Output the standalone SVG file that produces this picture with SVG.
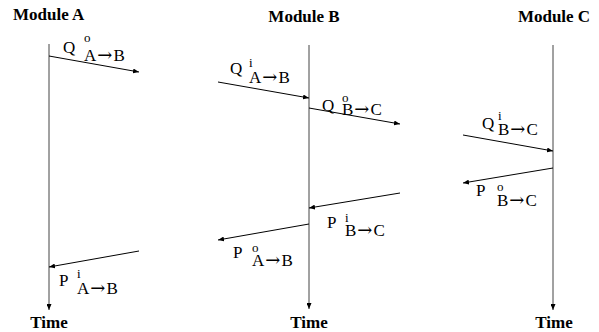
<svg xmlns="http://www.w3.org/2000/svg" width="599" height="332" viewBox="0 0 599 332">
<defs>
<marker id="ah" markerWidth="6" markerHeight="5" refX="6" refY="2.5" orient="auto" markerUnits="userSpaceOnUse">
<path d="M0,0 L6,2.5 L0,5 z" fill="#000"/>
</marker>
<style>
.title{font-weight:bold;font-size:17px}
.lbl{font-size:17px}
.sup{font-size:13px}
.arr{font-size:18px}
.life{stroke:#444;stroke-width:1;fill:none}
.msg{stroke:#000;stroke-width:1;fill:none}
</style>
</defs>
<rect width="599" height="332" fill="#fff"/>
<g font-family="Liberation Serif, serif" fill="#000">
<g id="moduleA">
<text class="title" x="13" y="20" font-family="Liberation Serif, serif">Module A</text>
<line class="life" x1="49" y1="44" x2="49" y2="310" marker-end="url(#ah)"/>
<text class="title" x="49" y="328" text-anchor="middle" font-family="Liberation Serif, serif">Time</text>
</g>
<g id="moduleB">
<text class="title" x="304" y="22" text-anchor="middle" font-family="Liberation Serif, serif">Module B</text>
<line class="life" x1="309" y1="45" x2="309" y2="309" marker-end="url(#ah)"/>
<text class="title" x="309" y="328" text-anchor="middle" font-family="Liberation Serif, serif">Time</text>
</g>
<g id="moduleC">
<text class="title" x="554" y="22" text-anchor="middle" font-family="Liberation Serif, serif">Module C</text>
<line class="life" x1="553" y1="45" x2="553" y2="310" marker-end="url(#ah)"/>
<text class="title" x="554" y="328" text-anchor="middle" font-family="Liberation Serif, serif">Time</text>
</g>
<g id="connectors">
<line class="msg" x1="49" y1="56" x2="139" y2="72" marker-end="url(#ah)"/>
<line class="msg" x1="218" y1="82" x2="309" y2="98" marker-end="url(#ah)"/>
<line class="msg" x1="309" y1="108" x2="400" y2="124" marker-end="url(#ah)"/>
<line class="msg" x1="463" y1="135" x2="553" y2="151" marker-end="url(#ah)"/>
<line class="msg" x1="553" y1="168" x2="463" y2="183" marker-end="url(#ah)"/>
<line class="msg" x1="400" y1="193" x2="309" y2="208" marker-end="url(#ah)"/>
<line class="msg" x1="309" y1="224" x2="218" y2="240" marker-end="url(#ah)"/>
<line class="msg" x1="139" y1="251" x2="49" y2="267" marker-end="url(#ah)"/>
</g>
<g id="labels" font-family="Liberation Serif, serif">
<text class="lbl" x="63" y="53" font-family="Liberation Serif, serif">Q</text><text class="sup" x="84" y="42" font-family="Liberation Serif, serif">o</text><text class="lbl" x="84" y="61" font-family="Liberation Serif, serif">A<tspan class="arr" dx="1" font-family="DejaVu Serif, serif">→</tspan><tspan dx="1">B</tspan></text>
<text class="lbl" x="230" y="74" font-family="Liberation Serif, serif">Q</text><text class="sup" x="249" y="67" font-family="Liberation Serif, serif">i</text><text class="lbl" x="249" y="83" font-family="Liberation Serif, serif">A<tspan class="arr" dx="1" font-family="DejaVu Serif, serif">→</tspan><tspan dx="1">B</tspan></text>
<text class="lbl" x="322" y="111" font-family="Liberation Serif, serif">Q</text><text class="sup" x="342" y="102" font-family="Liberation Serif, serif">o</text><text class="lbl" x="342" y="115" font-family="Liberation Serif, serif">B<tspan class="arr" dx="1" font-family="DejaVu Serif, serif">→</tspan><tspan dx="1">C</tspan></text>
<text class="lbl" x="482" y="129" font-family="Liberation Serif, serif">Q</text><text class="sup" x="498" y="120" font-family="Liberation Serif, serif">i</text><text class="lbl" x="498" y="135" font-family="Liberation Serif, serif">B<tspan class="arr" dx="1" font-family="DejaVu Serif, serif">→</tspan><tspan dx="1">C</tspan></text>
<text class="lbl" x="476" y="196" font-family="Liberation Serif, serif">P</text><text class="sup" x="497" y="191" font-family="Liberation Serif, serif">o</text><text class="lbl" x="497" y="206" font-family="Liberation Serif, serif">B<tspan class="arr" dx="1" font-family="DejaVu Serif, serif">→</tspan><tspan dx="1">C</tspan></text>
<text class="lbl" x="327" y="228" font-family="Liberation Serif, serif">P</text><text class="sup" x="345" y="222" font-family="Liberation Serif, serif">i</text><text class="lbl" x="345" y="236" font-family="Liberation Serif, serif">B<tspan class="arr" dx="1" font-family="DejaVu Serif, serif">→</tspan><tspan dx="1">C</tspan></text>
<text class="lbl" x="233" y="258" font-family="Liberation Serif, serif">P</text><text class="sup" x="252" y="252" font-family="Liberation Serif, serif">o</text><text class="lbl" x="252" y="266" font-family="Liberation Serif, serif">A<tspan class="arr" dx="1" font-family="DejaVu Serif, serif">→</tspan><tspan dx="1">B</tspan></text>
<text class="lbl" x="59" y="286" font-family="Liberation Serif, serif">P</text><text class="sup" x="77" y="278" font-family="Liberation Serif, serif">i</text><text class="lbl" x="77" y="294" font-family="Liberation Serif, serif">A<tspan class="arr" dx="1" font-family="DejaVu Serif, serif">→</tspan><tspan dx="1">B</tspan></text>
</g>
</g>
</svg>
